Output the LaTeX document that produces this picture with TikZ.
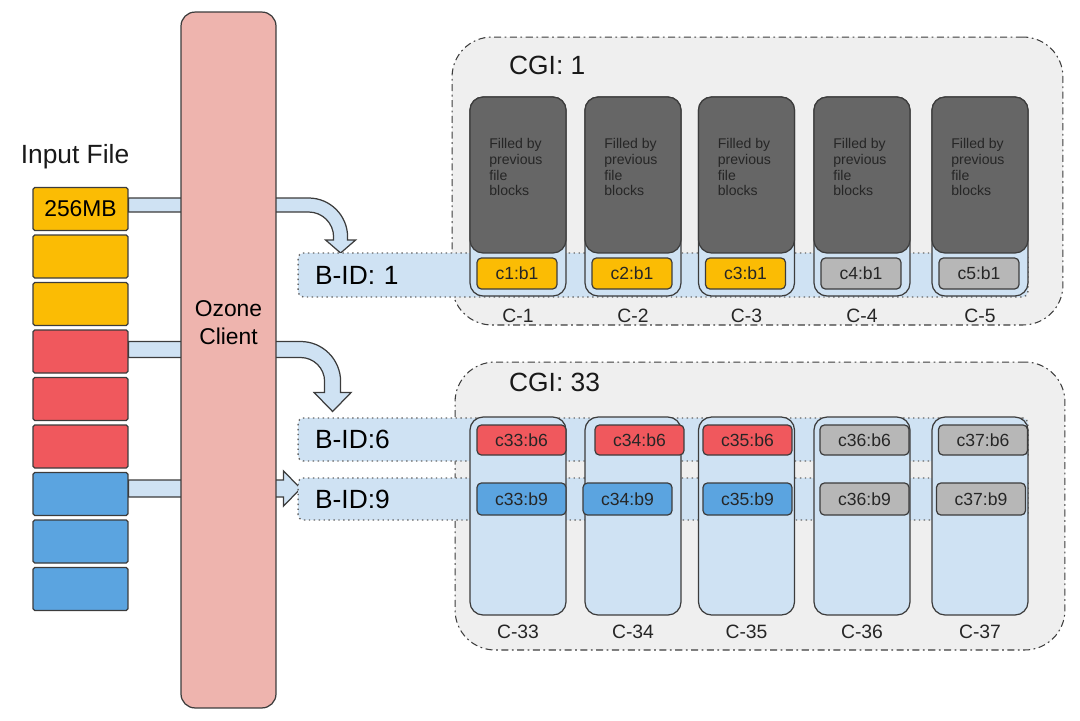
\documentclass[tikz,border=0pt]{standalone}
\usepackage{fontspec}
\setmainfont{Liberation Sans}
\usepackage{xcolor}
\usetikzlibrary{backgrounds}
\definecolor{fileyellow}{HTML}{FBBC04}
\definecolor{filered}{HTML}{F0585D}
\definecolor{fileblue}{HTML}{5BA4E0}
\definecolor{blockgray}{HTML}{B7B7B7}
\definecolor{darkfill}{HTML}{666666}
\definecolor{paleblue}{HTML}{CFE2F3}
\definecolor{groupgray}{HTML}{EFEFEF}
\definecolor{clientpink}{HTML}{EEB4AE}
\definecolor{edgegray}{HTML}{3C3C3C}

\begin{document}
\begin{tikzpicture}[x=0.02cm,y=-0.02cm,
        inblock/.style={rectangle,draw=edgegray,line width=0.7pt,rounded corners=1pt,minimum width=1.9cm,minimum height=0.86cm,inner sep=0pt,font=\fontsize{13}{15}\selectfont},
        client/.style={rectangle,draw=edgegray,line width=0.7pt,fill=clientpink,rounded corners=0.28cm,minimum width=1.9cm,minimum height=13.92cm},
        flow/.style={draw=edgegray,line width=0.7pt,fill=paleblue},
        group/.style={rectangle,draw=edgegray,line width=0.6pt,dash pattern=on 4pt off 2pt on 1pt off 2pt,fill=groupgray,rounded corners=0.8cm,inner sep=0pt},
        bidband/.style={rectangle,draw=black!60,dotted,line width=0.8pt,fill=paleblue,rounded corners=3pt,minimum width=14.6cm,inner xsep=0.34cm,inner ysep=0pt,text width=13.92cm,align=left,font=\fontsize{15}{18}\selectfont},
        container/.style={rectangle,draw=edgegray,line width=0.7pt,fill=paleblue,rounded corners=0.26cm,minimum width=1.92cm,inner sep=0pt},
        prevfill/.style={rectangle,draw=edgegray,line width=0.7pt,fill=darkfill,rounded corners=0.26cm,minimum width=1.92cm,minimum height=3.12cm,inner sep=0pt},
        prevtext/.style={anchor=north west,align=left,inner sep=0pt,text=black!85,font=\fontsize{8}{9}\selectfont},
        chunk/.style={rectangle,draw=edgegray,line width=0.7pt,rounded corners=2.5pt,minimum width=1.78cm,inner sep=0pt,text=black!85,font=\fontsize{10}{12}\selectfont},
        cname/.style={text=black!85,font=\fontsize{11}{13}\selectfont},
        title/.style={text=black!90,font=\fontsize{15}{18}\selectfont},
        ]
        \useasboundingbox (0,0) rectangle (1080,721);

        % Fichier d'entree
        \node[title,anchor=base] (inputlbl) at (75,163) {Input File};
        \foreach \i/\c in {0/fileyellow,1/fileyellow,2/fileyellow,3/filered,4/filered,5/filered,6/fileblue,7/fileblue,8/fileblue}
            \pgfmathtruncatemacro{\n}{\i+1}
            \node[inblock,fill=\c] (in\n) at (80.5,209+47.5*\i) {};
        \node[font=\fontsize{13}{15}\selectfont] (sizelbl) at (in1) {256MB};

        % Client
        \node[client] (client) at (228.5,360) {};
        \node[align=center,font=\fontsize{13}{16}\selectfont] (clienttxt) at (228.5,323) {Ozone\\Client};

        % Groupes de conteneurs
        \node[group,minimum width=12.22cm,minimum height=5.76cm] (cgi1) at (757.5,181) {};
        \node[group,minimum width=12.2cm,minimum height=5.76cm] (cgi33) at (760,506) {};
        \node[title,anchor=west] (cgi1lbl) at (503,65) {CGI: 1};
        \node[title,anchor=west] (cgi33lbl) at (503,382) {CGI: 33};

        % Blocs
        \node[bidband,minimum height=0.88cm] (bid1) at (663,275) {B-ID: 1};
        \node[bidband,minimum height=0.86cm] (bid6) at (663,439.5) {B-ID:6};
        \node[bidband,minimum height=0.84cm] (bid9) at (663,499) {B-ID:9};

        % Conteneurs CGI 1
        \foreach \x/\n/\c in {518/1/fileyellow,633/2/fileyellow,746.5/3/fileyellow,862/4/blockgray,980/5/blockgray} {
            \node[container,minimum height=3.98cm] (col\n) at (\x,196.5) {};
            \node[prevfill] (prev\n) at (\x,175) {};
            \node[prevtext] (prevtxt\n) at (\x-29,138) {Filled by\\previous\\file\\blocks};
            \node[chunk,fill=\c,minimum width=1.6cm,minimum height=0.62cm] (chunk\n) at (\x-1,273.5) {c\n:b1};
            \node[cname] (lbl\n) at (\x,316) {C-\n};
        }

        % Conteneurs CGI 33
        \foreach \x/\n/\a/\ca/\b/\cb in {518/33/521.5/filered/521.5/fileblue,633/34/639.5/filered/627.5/fileblue,746.5/35/747.5/filered/747.5/fileblue,862/36/864.5/blockgray/864.5/blockgray,980/37/983/blockgray/981/blockgray} {
            \node[container,minimum height=3.96cm] (col\n) at (\x,516) {};
            \node[chunk,fill=\ca,minimum height=0.6cm] (chunk\n b6) at (\a,440) {c\n:b6};
            \node[chunk,fill=\cb,minimum height=0.64cm] (chunk\n b9) at (\b,499) {c\n:b9};
            \node[cname] (lbl\n) at (\x,632) {C-\n};
        }

        % Fleches
        \begin{scope}[on background layer]
            \draw[flow] (in1.east) ++(0,-11) -- ++(180,0) arc[start angle=-90,end angle=0,radius=39] -- ++(0,3) -- ++(8,0) -- ++(-15,13) -- ++(-15,-13) -- ++(8,0) -- ++(0,-3) arc[start angle=0,end angle=-90,radius=25] -- ++(-180,0) -- cycle;
            \draw[flow] (in4.east) ++(0,-10) -- ++(172,0) arc[start angle=-90,end angle=0,radius=40] -- ++(0,11) -- ++(10.5,0) -- ++(-18.5,19) -- ++(-18.5,-19) -- ++(10.5,0) -- ++(0,-11) arc[start angle=0,end angle=-90,radius=24] -- ++(-172,0) -- cycle;
            \draw[flow] (in7.east) ++(0,-14) -- ++(155,0) -- ++(0,-9) -- ++(17,17.5) -- ++(-17,17.5) -- ++(0,-9) -- ++(-155,0) -- cycle;
        \end{scope}
    \end{tikzpicture}
\end{document}
